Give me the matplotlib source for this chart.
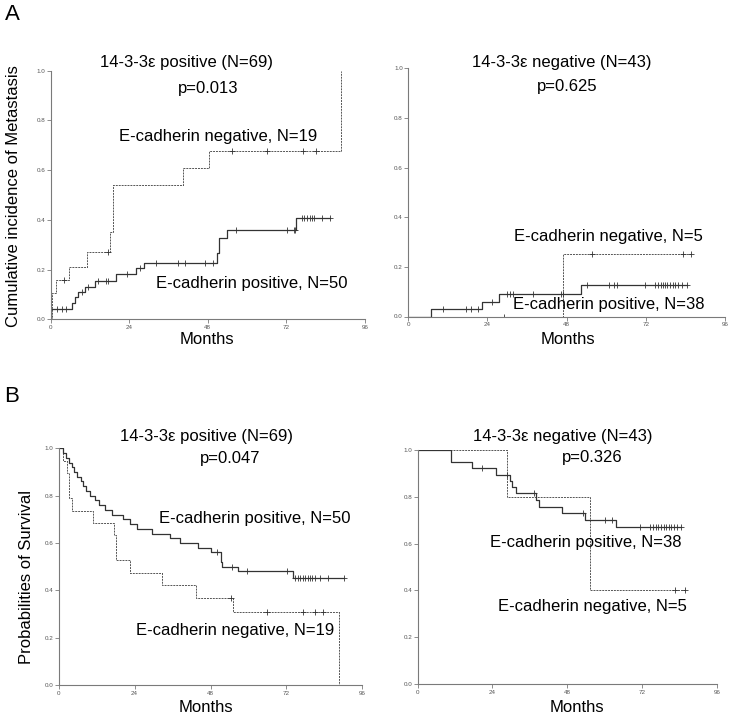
import matplotlib
matplotlib.use("Agg")
import matplotlib.pyplot as plt
import numpy as np

plt.rcParams['font.family'] = ['Liberation Sans', 'DejaVu Sans']

# --- A, 14-3-3e positive: cumulative incidence of metastasis ---
a1_neg_t = [0, 0.3, 1.5, 5.5, 11.0, 18.2, 19.0, 40.5, 48.5, 88.7]
a1_neg_v = [0, 0.105, 0.158, 0.21, 0.27, 0.35, 0.54, 0.61, 0.675, 1.0]
a1_neg_cens = [4.0, 17.6, 55.3, 66.0, 77.2, 80.9]

a1_pos_t = [0, 0, 6.4, 7.4, 8.4, 10.5, 13.5, 19.9, 26.0, 28.5, 50.7, 51.5, 53.8, 74.9]
a1_pos_v = [0, 0.04, 0.067, 0.09, 0.11, 0.131, 0.154, 0.181, 0.205, 0.228, 0.265, 0.326, 0.358, 0.408]
a1_pos_cens = [1.8, 3.4, 4.6, 9.6, 11.5, 14.5, 16.9, 17.6, 23.2, 27.3, 32.3, 39.0, 40.9,
               47.1, 49.7, 56.7, 72.1, 74.2, 74.6, 76.7, 77.5, 78.3, 79.1, 79.8, 80.4, 82.8, 85.2]

# --- A, 14-3-3e negative ---
a2_neg_t = [0, 47.0]
a2_neg_v = [0, 0.25]
a2_neg_cens = [29.0, 55.8, 83.2, 85.7]

a2_pos_t = [0, 6.8, 22.2, 27.4, 52.3]
a2_pos_v = [0, 0.03, 0.06, 0.09, 0.125]
a2_pos_cens = [10.6, 17.5, 19.1, 21.0, 25.3, 29.8, 30.8, 31.8, 37.7, 46.3, 47.0, 54.2, 60.7,
               62.5, 63.4, 71.8, 74.8, 75.8, 76.5, 77.3, 77.8, 78.3, 79.3, 80.1, 80.8, 81.8, 82.9, 84.4]

# --- B, 14-3-3e positive: survival ---
b1_pos_t = [0, 1.5, 2.3, 3.3, 4.1, 4.8, 5.9, 7.0, 7.8, 8.6, 9.9, 11.5, 12.8, 14.6, 16.8, 20.4,
            22.5, 24.7, 29.4, 35.2, 38.4, 44.2, 48.0, 51.2, 51.7, 56.8, 74.0]
b1_pos_v = [1.0, 0.98, 0.96, 0.94, 0.92, 0.90, 0.88, 0.86, 0.84, 0.82, 0.80, 0.78, 0.76, 0.74,
            0.72, 0.70, 0.68, 0.66, 0.64, 0.62, 0.60, 0.58, 0.56, 0.52, 0.50, 0.48, 0.453]
b1_pos_cens = [49.9, 54.7, 59.4, 72.1, 74.8, 75.6, 76.4, 77.2, 78.0, 78.7, 79.4, 80.1, 81.0,
               82.6, 85.2, 90.2]

b1_neg_t = [0, 1.3, 2.6, 3.4, 4.2, 10.9, 17.5, 18.2, 22.7, 32.8, 43.5, 55.2, 88.7]
b1_neg_v = [1.0, 0.947, 0.895, 0.79, 0.737, 0.684, 0.632, 0.526, 0.474, 0.421, 0.368, 0.307, 0.0]
b1_neg_cens = [54.4, 66.0, 77.3, 81.0, 83.5]

# --- B, 14-3-3e negative ---
b2_pos_t = [0, 10.6, 17.3, 25.1, 29.5, 30.3, 31.5, 37.9, 38.8, 46.3, 53.7, 63.6]
b2_pos_v = [1.0, 0.947, 0.921, 0.895, 0.868, 0.842, 0.815, 0.786, 0.758, 0.731, 0.702, 0.672]
b2_pos_cens = [20.8, 28.8, 37.5, 53.2, 60.2, 62.3, 71.4, 74.6, 75.5, 76.4, 77.3, 78.2, 79.0,
               79.8, 80.6, 81.4, 82.3, 83.2, 84.5]

b2_neg_t = [0, 28.6, 55.3]
b2_neg_v = [1.0, 0.8, 0.4]
b2_neg_cens = [82.7, 85.7]

W, H = 731, 718
fig = plt.figure(figsize=(W / 100, H / 100), dpi=100)

GRAY = '#7a7a7a'


def make_ax(x0, x1, ytop, ybot):
    ax = fig.add_axes([x0 / W, 1 - ybot / H, (x1 - x0) / W, (ybot - ytop) / H])
    ax.set_xlim(0, 96)
    ax.set_ylim(0, 1)
    for s in ['top', 'right']:
        ax.spines[s].set_visible(False)
    for s in ['left', 'bottom']:
        ax.spines[s].set_color(GRAY)
        ax.spines[s].set_linewidth(0.8)
    ax.set_xticks([0, 24, 48, 72, 96])
    ax.set_yticks([0, 0.2, 0.4, 0.6, 0.8, 1.0])
    ax.set_yticklabels(['0.0', '0.2', '0.4', '0.6', '0.8', '1.0'])
    ax.tick_params(length=3, width=0.6, color=GRAY, labelsize=4.5, labelcolor='#555555', pad=1)
    return ax


def km(ax, t, v, cens, dashed):
    t = list(t)
    v = list(v)
    end = max(cens) if cens else t[-1]
    if end > t[-1]:
        t.append(end)
        v.append(v[-1])
    if dashed:
        ax.step(t, v, where='post', color='#555555', lw=0.7, ls=(0, (2, 1)))
    else:
        ax.step(t, v, where='post', color='#333333', lw=0.9)
    # censor marks sit on the current level
    idx = np.searchsorted(np.array(t), np.array(cens), side='right') - 1
    cy = [v[i] for i in idx]
    ax.plot(cens, cy, ls='none', marker='+', ms=4, mew=0.6, color='#333333')


ax1 = make_ax(50.7, 365, 70.7, 319.3)
km(ax1, a1_neg_t, a1_neg_v, a1_neg_cens, True)
km(ax1, a1_pos_t, a1_pos_v, a1_pos_cens, False)

ax2 = make_ax(408.3, 725, 68.3, 316.5)
km(ax2, a2_neg_t, a2_neg_v, a2_neg_cens, True)
km(ax2, a2_pos_t, a2_pos_v, a2_pos_cens, False)

ax3 = make_ax(58.7, 362.3, 448.3, 685)
km(ax3, b1_neg_t, b1_neg_v, b1_neg_cens, True)
km(ax3, b1_pos_t, b1_pos_v, b1_pos_cens, False)

ax4 = make_ax(417.7, 716.7, 450, 684)
km(ax4, b2_neg_t, b2_neg_v, b2_neg_cens, True)
km(ax4, b2_pos_t, b2_pos_v, b2_pos_cens, False)


def txt(x, y, s, size=12, **kw):
    fig.text(x / W, 1 - y / H, s, ha='center', va='center', fontsize=size, **kw)


txt(12, 14, 'A', 16)
txt(12, 397, 'B', 16)

txt(187, 62, '14-3-3ε positive (N=69)')
txt(208, 88, 'p=0.013')
txt(218, 137, 'E-cadherin negative, N=19')
txt(252, 283, 'E-cadherin positive, N=50')
txt(14, 196, 'Cumulative incidence of Metastasis', rotation=90)
txt(207, 339, 'Months')

txt(562, 63, '14-3-3ε negative (N=43)')
txt(567, 86, 'p=0.625')
txt(608, 237, 'E-cadherin negative, N=5')
txt(609, 305, 'E-cadherin positive, N=38')
txt(568, 339, 'Months')

txt(206, 436, '14-3-3ε positive (N=69)')
txt(230, 458, 'p=0.047')
txt(255, 519, 'E-cadherin positive, N=50')
txt(235, 631, 'E-cadherin negative, N=19')
txt(27, 577, 'Probabilities of Survival', rotation=90)
txt(206, 708, 'Months')

txt(563, 436, '14-3-3ε negative (N=43)')
txt(592, 457, 'p=0.326')
txt(586, 543, 'E-cadherin positive, N=38')
txt(592, 606, 'E-cadherin negative, N=5')
txt(577, 708, 'Months')

fig.savefig('out.png', dpi=100)
